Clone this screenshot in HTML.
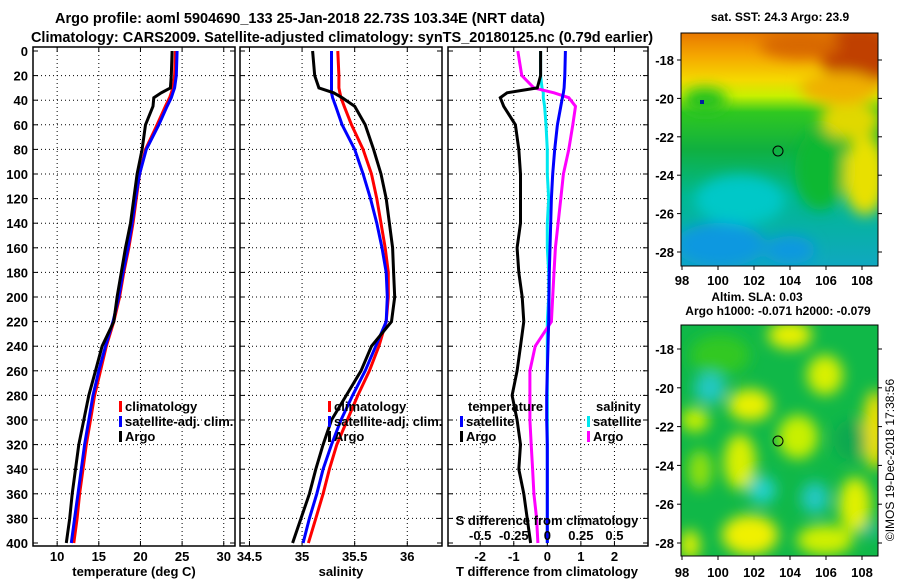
<!DOCTYPE html>
<html><head><meta charset="utf-8"><style>
html,body{margin:0;padding:0;background:#fff;}
svg{display:block;font-family:"Liberation Sans",sans-serif;font-weight:bold;}
</style></head><body>
<svg id="c" width="900" height="580" viewBox="0 0 900 580">
<defs>
<filter id="bl" x="-20%" y="-20%" width="140%" height="140%"><feGaussianBlur stdDeviation="7"/></filter>
<filter id="bl2" x="-30%" y="-30%" width="160%" height="160%"><feGaussianBlur stdDeviation="7"/></filter>
<clipPath id="m1"><rect x="681" y="33" width="197" height="233"/></clipPath>
<clipPath id="m2"><rect x="681" y="325" width="197" height="231"/></clipPath>
<linearGradient id="sstg" x1="0" y1="0" x2="0" y2="1">
<stop offset="0" stop-color="#e87800"/><stop offset="0.1" stop-color="#f5a800"/><stop offset="0.2" stop-color="#f5d800"/><stop offset="0.27" stop-color="#c8f000"/><stop offset="0.34" stop-color="#30c820"/><stop offset="0.5" stop-color="#10b040"/><stop offset="0.7" stop-color="#00b890"/><stop offset="1" stop-color="#10a8c0"/>
</linearGradient>
</defs>
<text x="300" y="23" text-anchor="middle" font-size="14.5">Argo profile: aoml 5904690_133 25-Jan-2018 22.73S 103.34E (NRT data)</text>
<text x="342" y="42" text-anchor="middle" font-size="14.5">Climatology: CARS2009. Satellite-adjusted climatology: synTS_20180125.nc (0.79d earlier)</text>

<g clip-path="url(#m1)">
<rect x="681" y="33" width="197" height="233" fill="url(#sstg)"/>
<g filter="url(#bl)">
<ellipse cx="860" cy="55" rx="40" ry="30" fill="#c04000"/>
<ellipse cx="800" cy="45" rx="40" ry="14" fill="#d86800"/>
<ellipse cx="865" cy="175" rx="22" ry="40" fill="#e8e000"/>
<ellipse cx="850" cy="120" rx="30" ry="20" fill="#e0d800"/>
<ellipse cx="740" cy="200" rx="45" ry="25" fill="#00c8c8"/>
<ellipse cx="720" cy="245" rx="45" ry="22" fill="#1098e0"/>
<ellipse cx="790" cy="250" rx="25" ry="14" fill="#1098e0"/>
<ellipse cx="820" cy="170" rx="25" ry="40" fill="#10b830"/>
<ellipse cx="705" cy="100" rx="22" ry="12" fill="#20c020"/>
<ellipse cx="840" cy="88" rx="40" ry="16" fill="#f0b000"/>
</g>
<rect x="700" y="100" width="4" height="4" fill="#0020a0"/>
</g>
<rect x="681" y="33" width="197" height="233" fill="none" stroke="#000"/>
<circle cx="778" cy="151" r="5" fill="none" stroke="#000"/>
<text x="780" y="21" text-anchor="middle" font-size="12">sat. SST: 24.3 Argo: 23.9</text>
<text x="757" y="301" text-anchor="middle" font-size="12">Altim. SLA: 0.03</text>
<text x="778" y="315" text-anchor="middle" font-size="12">Argo h1000: -0.071 h2000: -0.079</text>

<g clip-path="url(#m2)">
<rect x="681" y="325" width="197" height="231" fill="#10b848"/>
<g filter="url(#bl2)">
<ellipse cx="720" cy="355" rx="30" ry="20" fill="#30c820"/>
<ellipse cx="790" cy="335" rx="22" ry="14" fill="#e8f000"/>
<ellipse cx="825" cy="375" rx="18" ry="20" fill="#d8f000"/>
<ellipse cx="750" cy="405" rx="22" ry="16" fill="#e8f000"/>
<ellipse cx="695" cy="420" rx="14" ry="12" fill="#c8f000"/>
<ellipse cx="798" cy="437" rx="20" ry="22" fill="#c8f000"/>
<ellipse cx="740" cy="462" rx="16" ry="28" fill="#d8f000"/>
<ellipse cx="700" cy="470" rx="12" ry="20" fill="#90e010"/>
<ellipse cx="875" cy="430" rx="12" ry="40" fill="#f0e000"/>
<ellipse cx="855" cy="505" rx="16" ry="28" fill="#e0f000"/>
<ellipse cx="750" cy="535" rx="28" ry="20" fill="#f0f000"/>
<ellipse cx="825" cy="540" rx="28" ry="15" fill="#d0f000"/>
<ellipse cx="690" cy="545" rx="10" ry="15" fill="#e0f000"/>
<ellipse cx="710" cy="388" rx="16" ry="16" fill="#20c8c0"/>
<ellipse cx="762" cy="490" rx="14" ry="14" fill="#20d0c8"/>
<ellipse cx="815" cy="498" rx="14" ry="16" fill="#20c8c0"/>
<ellipse cx="870" cy="530" rx="8" ry="8" fill="#20b8a0"/>
<ellipse cx="850" cy="440" rx="16" ry="20" fill="#10a850"/>
</g>
</g>
<rect x="681" y="325" width="197" height="231" fill="none" stroke="#000"/>
<circle cx="778" cy="441" r="5" fill="none" stroke="#000"/>
<text transform="translate(894,460) rotate(-90)" text-anchor="middle" font-size="12" font-weight="normal">©IMOS 19-Dec-2018 17:38:56</text>
</svg>
<script>
const depthTicks=[0,20,40,60,80,100,120,140,160,180,200,220,240,260,280,300,320,340,360,380,400];
const tTicks=[10,15,20,25,30];
const sTicks=[34.5,35,35.5,36];
const dTTicks=[-2,-1,0,1,2];
const dSTicks=[-0.5,-0.25,0,0.25,0.5];
const dSTickLabels=["-0.5","-0.25","0","0.25","0.5"];
const depths=[0,20,30,34,38,45,60,80,100,120,140,160,180,200,220,240,260,280,300,320,340,360,380,400];
const tArgo=[23.8,23.7,23.6,22.5,21.6,21.5,20.6,20.2,19.6,19.2,18.8,18.2,17.7,17.2,16.8,15.4,14.6,13.8,13.2,12.6,12.2,11.8,11.5,11.1];
const tClim=[24.2,24.1,23.9,23.7,23.5,23.0,22.0,20.6,19.9,19.5,19.1,18.6,18.0,17.5,16.8,15.9,15.2,14.5,14.0,13.5,13.1,12.7,12.4,12.0];
const tSat=[24.4,24.3,24.1,23.9,23.7,23.2,22.2,20.7,19.9,19.4,19.0,18.5,17.9,17.4,16.7,15.8,15.0,14.3,13.8,13.3,12.9,12.5,12.1,11.7];
const sArgo=[35.1,35.12,35.16,35.3,35.38,35.5,35.6,35.68,35.75,35.8,35.83,35.86,35.87,35.88,35.85,35.66,35.56,35.42,35.28,35.2,35.13,35.07,34.99,34.91];
const sClim=[35.34,35.35,35.35,35.36,35.37,35.4,35.47,35.58,35.66,35.71,35.75,35.79,35.82,35.82,35.8,35.73,35.64,35.53,35.43,35.33,35.26,35.2,35.13,35.06];
const sSat=[35.28,35.28,35.28,35.28,35.29,35.32,35.38,35.5,35.58,35.65,35.71,35.76,35.8,35.81,35.8,35.7,35.6,35.48,35.37,35.28,35.2,35.14,35.07,35.01];
const dTSat=[0.54,0.52,0.5,0.48,0.45,0.4,0.3,0.22,0.16,0.12,0.1,0.08,0.06,0.05,0.04,0.02,0.0,-0.02,-0.02,0.0,0.0,0.0,0.0,0.0];
const dTArgo=[-0.2,-0.2,-0.3,-1.2,-1.4,-1.3,-0.95,-0.85,-0.8,-0.8,-0.8,-0.9,-0.85,-0.75,-0.7,-0.8,-0.9,-1.05,-0.9,-0.8,-0.85,-0.7,-0.6,-0.5];
const dSSat=[-0.05,-0.05,-0.04,-0.03,-0.03,-0.02,-0.01,0.0,0.0,0.01,0.0,0.0,0.01,0.01,0.0,0.0,0.0,0.0,0.0,0.0,0.0,0.0,0.0,0.0];
const dSArgo=[-0.22,-0.19,-0.1,0.05,0.16,0.21,0.19,0.16,0.12,0.1,0.08,0.06,0.05,0.04,0.03,-0.09,-0.13,-0.13,-0.13,-0.12,-0.11,-0.1,-0.08,-0.07];
const mapLons=[98,100,102,104,106,108];
const map1Lats=[-18,-20,-22,-24,-26,-28];
const map2Lats=[-18,-20,-22,-24,-26,-28];
const svg=document.getElementById('c');
const NS='http://www.w3.org/2000/svg';
function mk(tag,attrs,parent){const e=document.createElementNS(NS,tag);for(const k in attrs)e.setAttribute(k,attrs[k]);(parent||svg).appendChild(e);return e;}
const Y0=51,Y1=543,PT=47,PB=546;
const yD=d=>Y0+(Y1-Y0)*d/400;
const panels=[
 {x0:33,x1:235,min:7.1,max:31.35,name:'temperature-panel'},
 {x0:240,x1:442,min:34.41,max:36.33,name:'salinity-panel'},
 {x0:448,x1:648,min:-2.96,max:3.0,name:'difference-panel'}];
function xf(p,v){return p.x0+(v-p.min)/(p.max-p.min)*(p.x1-p.x0);}
function xS(v){return xf(panels[2],v*4);}
panels.forEach((p,i)=>{
 const g=mk('g',{});
 
 
 depthTicks.forEach(d=>{
  const y=yD(d);
  if(d>0&&d<400){const l=mk('line',{x1:p.x0,x2:p.x1,y1:y,y2:y,stroke:'#000','stroke-dasharray':'1,3'},g);
  }
  mk('line',{x1:p.x0,x2:p.x0+5,y1:y,y2:y,stroke:'#000'},g);
  mk('line',{x1:p.x1-5,x2:p.x1,y1:y,y2:y,stroke:'#000'},g);
  if(i===0){const t=mk('text',{x:28,y:y+5,'text-anchor':'end','font-size':13},g);t.textContent=d;
  }
 });
 const ticks=i===0?tTicks:i===1?sTicks:dTTicks;
 ticks.forEach(v=>{const x=xf(p,v);
  const l=mk('line',{x1:x,x2:x,y1:PT,y2:PB,stroke:'#000','stroke-dasharray':'1,3'},g);
  
  mk('line',{x1:x,x2:x,y1:PT,y2:PT+5,stroke:'#000'},g);
  mk('line',{x1:x,x2:x,y1:PB-5,y2:PB,stroke:'#000'},g);
  const t=mk('text',{x:x,y:561,'text-anchor':'middle','font-size':13},g);t.textContent=v;
  });
 const fr=mk('rect',{x:p.x0,y:PT,width:p.x1-p.x0,height:PB-PT,fill:'none',stroke:'#000','stroke-width':1.5},g);
 
});
function line(vals,fx,color,name){
 let d='';
 depths.forEach((dep,k)=>{const x=fx(vals[k]),y=yD(dep);d+=(k?'L':'M')+x.toFixed(1)+','+y.toFixed(1);});
 const p=mk('path',{d:d,fill:'none',stroke:color,'stroke-width':3,'stroke-linejoin':'miter'});
 
}
line(tClim,v=>xf(panels[0],v),'#ff0000','temp-climatology-line');
line(tSat,v=>xf(panels[0],v),'#0000ff','temp-satellite-line');
line(tArgo,v=>xf(panels[0],v),'#000','temp-argo-line');
line(sClim,v=>xf(panels[1],v),'#ff0000','sal-climatology-line');
line(sSat,v=>xf(panels[1],v),'#0000ff','sal-satellite-line');
line(sArgo,v=>xf(panels[1],v),'#000','sal-argo-line');
line(dSSat,xS,'#00e8f0','dsal-satellite-line');
line(dSArgo,xS,'#ff00ff','dsal-argo-line');
line(dTSat,v=>xf(panels[2],v),'#0000ff','dtemp-satellite-line');
line(dTArgo,v=>xf(panels[2],v),'#000','dtemp-argo-line');
const sl=mk('text',{x:547,y:525,'text-anchor':'middle','font-size':13});sl.textContent='S difference from climatology';

dSTicks.forEach((v,k)=>{const t=mk('text',{x:xS(v),y:540,'text-anchor':'middle','font-size':13});t.textContent=dSTickLabels[k];
 });
[['temperature (deg C)',134,'temp-axis-title'],['salinity',341,'sal-axis-title'],['T difference from climatology',547,'diff-axis-title']].forEach(a=>{
 const t=mk('text',{x:a[1],y:576,'text-anchor':'middle','font-size':13});t.textContent=a[0];
 });
function leg(x,y,color,label,name){
 const g=mk('g',{});
 mk('rect',{x:x,y:y-10,width:3,height:11,fill:color},g);
 const t=mk('text',{x:x+6,y:y,'font-size':13},g);t.textContent=label;}
leg(119,411,'#ff0000','climatology','legend-climatology');
leg(119,426,'#0000ff','satellite-adj. clim.','legend-satellite-adj');
leg(119,441,'#000','Argo','legend-argo');
leg(328,411,'#ff0000','climatology','legend-sal-climatology');
leg(328,426,'#0000ff','satellite-adj. clim.','legend-sal-satellite-adj');
leg(328,441,'#000','Argo','legend-sal-argo');
const lt=mk('text',{x:468,y:411,'font-size':13});lt.textContent='temperature';
const ls=mk('text',{x:596,y:411,'font-size':13});ls.textContent='salinity';
leg(460,426,'#0000ff','satellite','legend-dtemp-satellite');
leg(460,441,'#000','Argo','legend-dtemp-argo');
leg(587,426,'#00e8f0','satellite','legend-dsal-satellite');
leg(587,441,'#ff00ff','Argo','legend-dsal-argo');
const lonX=v=>682+(v-98)*18;
const lat1Y=v=>60+(-18-v)*19.2;
const lat2Y=v=>349+(-18-v)*19.4;
mapLons.forEach(v=>{
 [[266,285],[556,577]].forEach(r=>{
  mk('line',{x1:lonX(v),x2:lonX(v),y1:r[0],y2:r[0]+4,stroke:'#000'});
  const t=mk('text',{x:lonX(v),y:r[1],'text-anchor':'middle','font-size':13});t.textContent=v;
  });
});
map1Lats.forEach(v=>{const y=lat1Y(v);
 mk('line',{x1:677,x2:681,y1:y,y2:y,stroke:'#000'});mk('line',{x1:878,x2:882,y1:y,y2:y,stroke:'#000'});
 const t=mk('text',{x:674,y:y+5,'text-anchor':'end','font-size':13});t.textContent=v;
 });
map2Lats.forEach(v=>{const y=lat2Y(v);
 mk('line',{x1:677,x2:681,y1:y,y2:y,stroke:'#000'});mk('line',{x1:878,x2:882,y1:y,y2:y,stroke:'#000'});
 const t=mk('text',{x:674,y:y+5,'text-anchor':'end','font-size':13});t.textContent=v;
 });
</script>
</body></html>
